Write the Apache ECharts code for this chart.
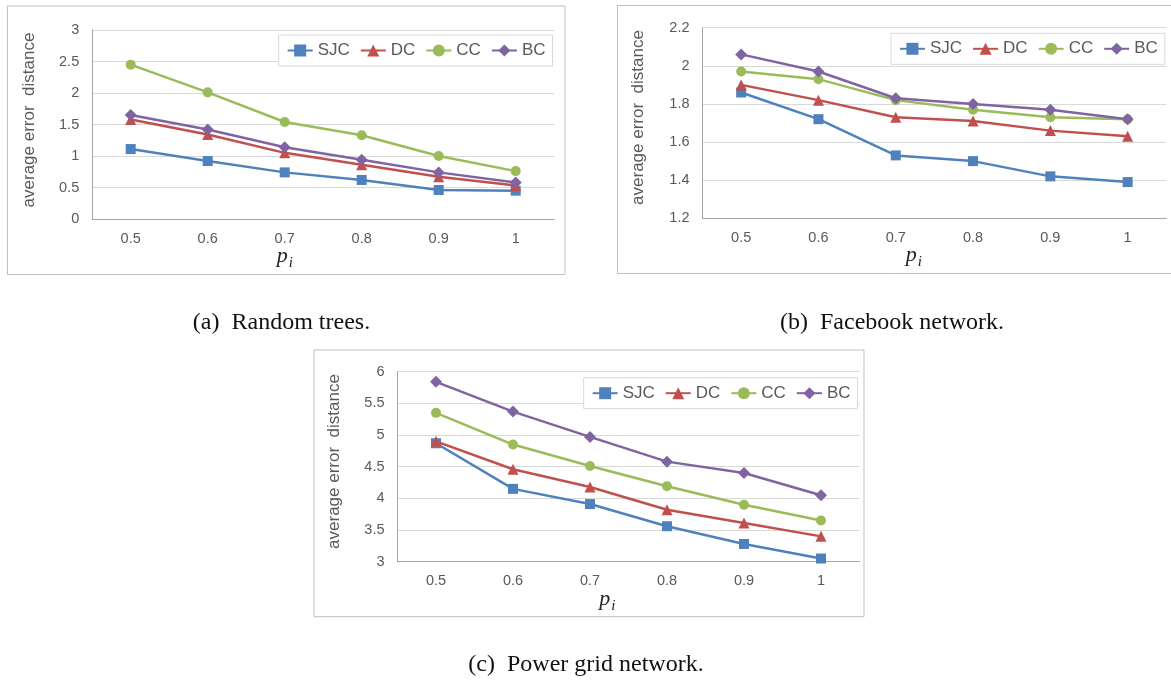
<!DOCTYPE html>
<html>
<head>
<meta charset="utf-8">
<script src="https://cdn.jsdelivr.net/npm/echarts/dist/echarts.min.js"></script>
<style>
html,body{margin:0;padding:0;background:#fff;}
#c{width:1171px;height:681px;}
</style>
</head>
<body>
<div id="c"></div>
<script>
// ---- data ----
var categories = ['0.5', '0.6', '0.7', '0.8', '0.9', '1'];
var seriesNames = ['SJC', 'DC', 'CC', 'BC'];

// (a) Random trees
var treesSJC = [1.11, 0.92, 0.74, 0.62, 0.46, 0.45];
var treesDC  = [1.58, 1.34, 1.05, 0.86, 0.67, 0.53];
var treesCC  = [2.45, 2.01, 1.54, 1.33, 1.00, 0.76];
var treesBC  = [1.65, 1.42, 1.14, 0.94, 0.74, 0.58];

// (b) Facebook network
var fbSJC = [1.86, 1.72, 1.53, 1.50, 1.42, 1.39];
var fbDC  = [1.90, 1.82, 1.73, 1.71, 1.66, 1.63];
var fbCC  = [1.97, 1.93, 1.82, 1.77, 1.73, 1.72];
var fbBC  = [2.06, 1.97, 1.83, 1.80, 1.77, 1.72];

// (c) Power grid network
var gridSJC = [4.87, 4.15, 3.91, 3.56, 3.28, 3.05];
var gridDC  = [4.90, 4.46, 4.18, 3.82, 3.61, 3.40];
var gridCC  = [5.35, 4.85, 4.51, 4.19, 3.90, 3.65];
var gridBC  = [5.84, 5.37, 4.97, 4.58, 4.40, 4.05];

var yRanges = [[0, 3, 0.5], [1.2, 2.2, 0.2], [3, 6, 0.5]];
var captions = ['(a)  Random trees.', '(b)  Facebook network.', '(c)  Power grid network.'];
var yTitle = 'average error  distance';

// ---- styling ----
var panelData = [
  [treesSJC, treesDC, treesCC, treesBC],
  [fbSJC, fbDC, fbCC, fbBC],
  [gridSJC, gridDC, gridCC, gridBC]
];
var colors = ['#4F81BD', '#C0504D', '#9BBB59', '#8064A2'];
var symbols = ['rect', 'triangle', 'circle', 'diamond'];
var symbolSizes = [10, 11, 10, 12];
var SANS = 'Liberation Sans, Arial, sans-serif';
var SERIF = 'Liberation Serif, Times New Roman, serif';

var grids = [
  {left: 92.2, top: 30, width: 462, height: 189},
  {left: 702.5, top: 27.7, width: 463.8, height: 190.6},
  {left: 397.5, top: 371.7, width: 462, height: 190}
];
var legendPos = [
  {right: 618.5, top: 35},
  {right: 6.2, top: 33.3},
  {right: 313.5, top: 377.7}
];
var frames = [
  {x: 7.5, y: 6, w: 557.5, h: 268.5},
  {x: 617.5, y: 5.5, w: 570, h: 268},
  {x: 314, y: 350, w: 550, h: 266.7}
];
var captionPos = [[281.5, 323], [892, 323], [586, 665]];
var yTitlePos = [[29, 120], [638.5, 117.5], [334, 461.5]];
var pPos = [[276.7, 262.5], [905.7, 262], [599.3, 606]];

var xAxes = [], yAxes = [], series = [], legends = [], graphics = [];
for (var p = 0; p < 3; p++) {
  xAxes.push({
    type: 'category', gridIndex: p, data: categories, boundaryGap: true,
    axisTick: {show: false},
    axisLine: {show: true, lineStyle: {color: '#a6a6a6', width: 1}},
    axisLabel: {fontFamily: SANS, fontSize: 14.5, color: '#595959', margin: 12}
  });
  yAxes.push({
    type: 'value', gridIndex: p, min: yRanges[p][0], max: yRanges[p][1], interval: yRanges[p][2],
    axisTick: {show: false},
    axisLine: {show: true, lineStyle: {color: '#a6a6a6', width: 1}},
    splitLine: {show: true, lineStyle: {color: '#d9d9d9', width: 1}},
    axisLabel: {fontFamily: SANS, fontSize: 14.5, color: '#595959', margin: 13}
  });
  for (var s = 0; s < 4; s++) {
    series.push({
      type: 'line', name: seriesNames[s], xAxisIndex: p, yAxisIndex: p,
      data: panelData[p][s],
      symbol: symbols[s], symbolSize: symbolSizes[s], showSymbol: true,
      lineStyle: {color: colors[s], width: 2.5},
      itemStyle: {color: colors[s]},
      z: 2 + s
    });
  }
  legends.push({
    data: seriesNames, orient: 'horizontal',
    right: legendPos[p].right, top: legendPos[p].top,
    itemWidth: 25, itemHeight: 15, itemGap: 10,
    padding: [7, 7, 7, 8],
    backgroundColor: '#ffffff', borderColor: '#d9d9d9', borderWidth: 1,
    textStyle: {fontFamily: SANS, fontSize: 17, color: '#595959', lineHeight: 17}
  });
  graphics.push({
    type: 'rect', shape: {x: frames[p].x, y: frames[p].y, width: frames[p].w, height: frames[p].h},
    style: {fill: 'none', stroke: '#bfbfbf', lineWidth: 1}, z: -1, silent: true
  });
  graphics.push({
    type: 'text', x: captionPos[p][0], y: captionPos[p][1],
    style: {text: captions[p], font: '24px ' + SERIF, fill: '#111', align: 'center', verticalAlign: 'middle'}
  });
  graphics.push({
    type: 'text', x: yTitlePos[p][0], y: yTitlePos[p][1], rotation: Math.PI / 2,
    style: {text: yTitle, font: '17px ' + SANS, fill: '#595959', align: 'center', verticalAlign: 'middle'}
  });
  graphics.push({
    type: 'text', x: pPos[p][0], y: pPos[p][1] - 6.6,
    style: {text: 'p', font: 'italic 22px ' + SERIF, fill: '#222', align: 'left', verticalAlign: 'middle'}
  });
  graphics.push({
    type: 'text', x: pPos[p][0] + 12, y: pPos[p][1] + 0.5,
    style: {text: 'i', font: 'italic 15px ' + SERIF, fill: '#222', align: 'left', verticalAlign: 'middle'}
  });
}

var chart = echarts.init(document.getElementById('c'), null, {renderer: 'canvas'});
chart.setOption({
  backgroundColor: '#ffffff',
  animation: false,
  grid: grids,
  xAxis: xAxes,
  yAxis: yAxes,
  legend: legends,
  series: series,
  graphic: graphics
});
</script>
</body>
</html>
